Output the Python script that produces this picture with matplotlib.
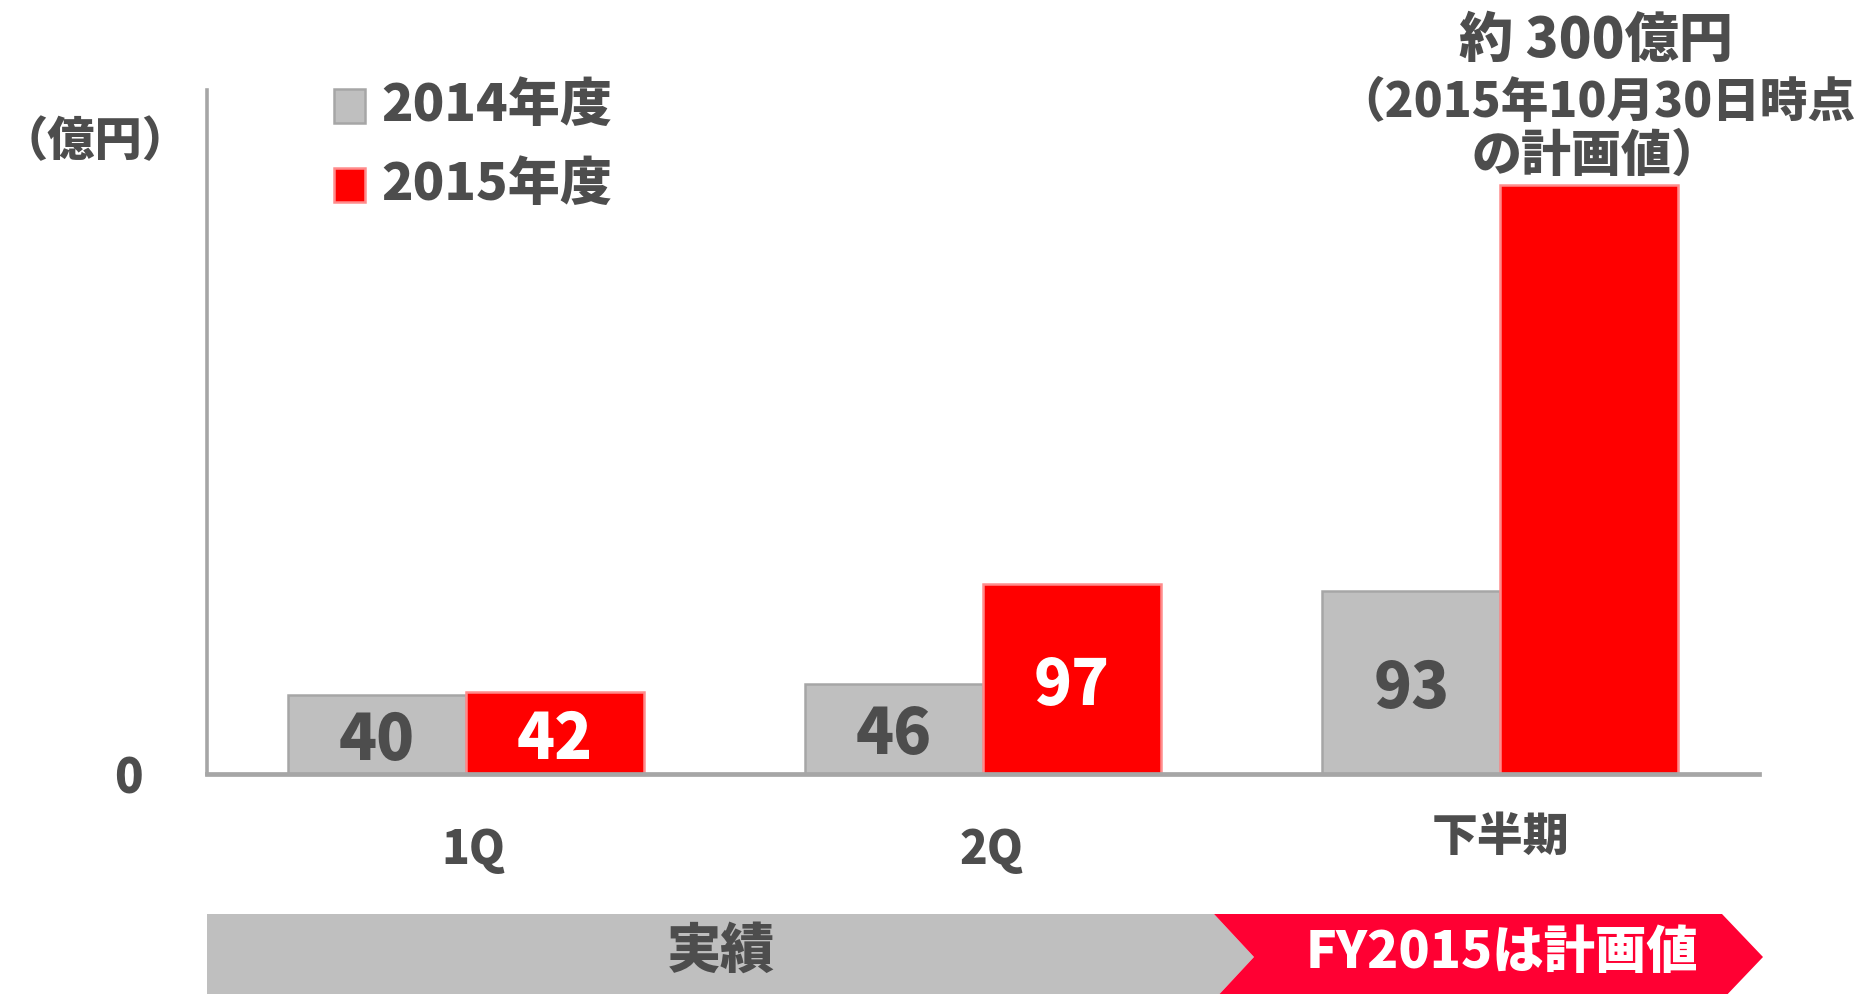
import numpy as np
import matplotlib
matplotlib.use("Agg")
import matplotlib.pyplot as plt
from matplotlib.patches import Polygon, Rectangle
from matplotlib.transforms import offset_copy, ScaledTranslation

# ---- data --------------------------------------------------------------------
categories = ["1Q", "2Q", "下半期"]
fy2014 = [40, 46, 93]
fy2015 = [42, 97, 300]
label2015 = ["42", "97", ""]          # plan bar carries the callout instead
series_names = ["2014年度", "2015年度"]
unit_label = "（億円）"
plan_note = ["約 300億円", "（2015年10月30日時点", "の計画値）"]
band_labels = ["実績", "FY2015は計画値"]

GRAY, GRAY_EDGE = "#bfbfbf", "#a6a6a6"
RED, RED_EDGE = "#ff0000", "#ff8c8c"
BAND_RED = "#ff0033"
TXT = "#4d4d4d"
WT = "heavy"

plt.rcParams["font.family"] = ["Noto Sans CJK JP", "DejaVu Sans"]
plt.rcParams["font.weight"] = "bold"

W, H = 1854, 994
fx = lambda x: x / W
fy = lambda y: 1 - y / H

fig = plt.figure(figsize=(W / 100, H / 100), dpi=100)
ax = fig.add_axes([fx(207), fy(774), (1759 - 207) / W, (774 - 90) / H])

x = np.arange(len(categories))
bw = 0.344
ax.bar(x - bw / 2, fy2014, bw, color=GRAY, edgecolor=GRAY_EDGE, lw=1.8, zorder=2)
ax.bar(x + bw / 2, fy2015, bw, color=RED, edgecolor=RED_EDGE, lw=1.8, zorder=2)

ax.set_xlim(-0.5, 2.5)
ax.set_ylim(0, 348.5)
for s in ("top", "right"):
    ax.spines[s].set_visible(False)
ax.spines["left"].set_color(GRAY_EDGE)
ax.spines["left"].set_linewidth(2.6)
ax.spines["bottom"].set_color(GRAY_EDGE)
ax.spines["bottom"].set_linewidth(3.4)
ax.spines["bottom"].set_zorder(3)

ax.set_yticks([0])
ax.set_yticklabels(["0"], fontsize=34, color=TXT, fontweight=WT)
ax.tick_params(axis="y", length=0, pad=46)
ax.set_xticks(x)
ax.set_xticklabels(categories, fontsize=33, color=TXT, fontweight=WT)
ax.tick_params(axis="x", length=0, pad=38)
for lbl, txt in zip(ax.get_xticklabels(), categories):
    dx, dy = (8, 0) if txt.endswith("Q") else (0, 13)
    lbl.set_transform(lbl.get_transform() + ScaledTranslation(dx / 100, dy / 100, fig.dpi_scale_trans))

# value labels centred in the bars
for xi, v in zip(x, fy2014):
    tr = offset_copy(ax.transData, fig=fig, y=-18, units="points")
    ax.text(xi - bw / 2, v / 2, str(v), transform=tr, ha="center", va="baseline",
            fontsize=45, color=TXT, fontweight=WT, zorder=4)
for xi, v, t in zip(x, fy2015, label2015):
    if not t:
        continue
    tr = offset_copy(ax.transData, fig=fig, y=-19, units="points")
    ax.text(xi + bw / 2, v / 2, t, transform=tr, ha="center", va="baseline",
            fontsize=45, color="white", fontweight=WT, zorder=4)

# legend (hand drawn)
for (top, bot), c, ec, name in zip([(89, 123), (168, 202)], [GRAY, RED], [GRAY_EDGE, RED_EDGE],
                                   series_names):
    fig.add_artist(Rectangle((fx(334), fy(bot)), 31 / W, (bot - top) / H,
                             facecolor=c, edgecolor=ec, lw=1.8, transform=fig.transFigure))
    fig.text(fx(381), fy((top + bot) / 2), name, ha="left", va="center",
             fontsize=37.5, color=TXT, fontweight=WT)

fig.text(fx(1), fy(142), unit_label, ha="left", va="center", fontsize=34,
         color=TXT, fontweight=WT)

# plan callout above the last bar
for yy, line, fs in zip([41, 103, 156], plan_note, [39, 34.3, 36]):
    fig.text(fx(1596), fy(yy), line, ha="center", va="center", fontsize=fs,
             color=TXT, fontweight=WT)

# bottom arrow band
top, mid, bot = 914, 957, 1000
gray_pts = [(207, top), (1214, top), (1254, mid), (1214, bot), (207, bot)]
red_pts = [(1214, top), (1722, top), (1763, mid), (1722, bot), (1214, bot), (1254, mid)]
fig.add_artist(Polygon([(fx(a), fy(b)) for a, b in gray_pts], closed=True,
                       facecolor=GRAY, edgecolor="none", transform=fig.transFigure))
fig.add_artist(Polygon([(fx(a), fy(b)) for a, b in red_pts], closed=True,
                       facecolor=BAND_RED, edgecolor="none", transform=fig.transFigure))
fig.text(fx(721), fy(951), band_labels[0], ha="center", va="center", fontsize=39,
         color=TXT, fontweight=WT)
fig.text(fx(1502), fy(953), band_labels[1], ha="center", va="center", fontsize=37,
         color="white", fontweight=WT)

fig.savefig("out.png", dpi=100)
